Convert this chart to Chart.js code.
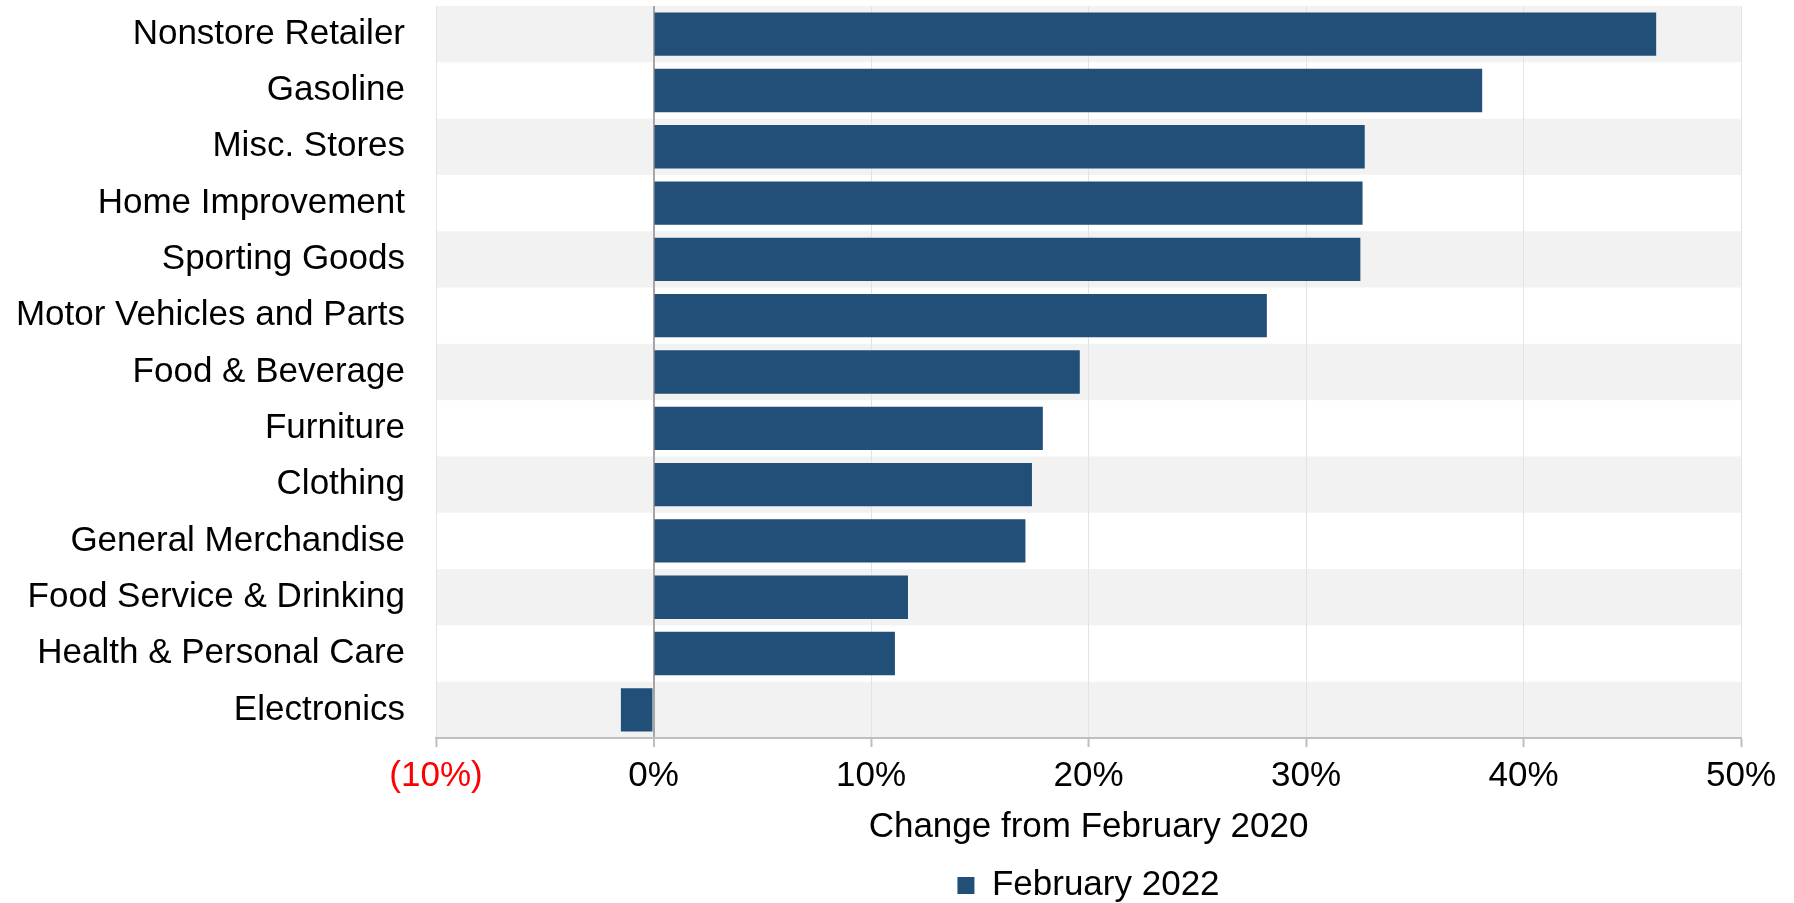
<!DOCTYPE html>
<html lang="en">
<head>
    <meta charset="UTF-8">
    <title>Retail Sales Change</title>
    <script src="https://cdn.jsdelivr.net/npm/chart.js@4"></script>
    <style>
        html, body {
            margin: 0;
            padding: 0;
            background: #ffffff;
        }
        #wrap {
            width: 1794px;
            height: 903px;
            position: relative;
        }
    </style>
</head>
<body>
    <div id="wrap">
        <canvas id="salesChart"></canvas>
    </div>

    <script>
        const categories = [
            'Nonstore Retailer',
            'Gasoline',
            'Misc. Stores',
            'Home Improvement',
            'Sporting Goods',
            'Motor Vehicles and Parts',
            'Food & Beverage',
            'Furniture',
            'Clothing',
            'General Merchandise',
            'Food Service & Drinking',
            'Health & Personal Care',
            'Electronics'
        ];
        const feb2022 = [46.1, 38.1, 32.7, 32.6, 32.5, 28.2, 19.6, 17.9, 17.4, 17.1, 11.7, 11.1, -1.5];
        const xMin = -10;
        const xMax = 50;
        const xStep = 10;

        const FONT = "'Liberation Sans', Arial, sans-serif";

        // grey stripes behind every other row
        const rowBands = {
            id: 'rowBands',
            beforeDraw(chart) {
                const { ctx, chartArea } = chart;
                const y = chart.scales.y;
                const half = Math.abs(y.getPixelForValue(1) - y.getPixelForValue(0)) / 2;
                ctx.save();
                ctx.fillStyle = '#f2f2f2';
                categories.forEach((c, i) => {
                    if (i % 2 === 0) {
                        const cy = y.getPixelForValue(i);
                        ctx.fillRect(chartArea.left, cy - half, chartArea.right - chartArea.left, half * 2);
                    }
                });
                ctx.restore();
            }
        };

        const ctx = document.getElementById('salesChart').getContext('2d');
        new Chart(ctx, {
            type: 'bar',
            data: {
                labels: categories,
                datasets: [{
                    label: 'February 2022',
                    data: feb2022,
                    backgroundColor: '#214f78',
                    borderColor: '#214f78',
                    borderWidth: 0,
                    barPercentage: 0.77,
                    categoryPercentage: 1
                }]
            },
            options: {
                indexAxis: 'y',
                responsive: true,
                maintainAspectRatio: false,
                animation: false,
                layout: {
                    padding: { top: 6, right: 53, left: 0, bottom: -10 }
                },
                scales: {
                    x: {
                        min: xMin,
                        max: xMax,
                        ticks: {
                            stepSize: xStep,
                            padding: 12,
                            font: { family: FONT, size: 35, lineHeight: 1.0 },
                            color: c => c.tick && c.tick.value < 0 ? '#ff0000' : '#000000',
                            callback: v => v < 0 ? '(' + Math.abs(v) + '%)' : v + '%'
                        },
                        grid: {
                            color: c => c.tick && c.tick.value === 0 ? '#a6a6a6' : '#e3e3e3',
                            lineWidth: c => c.tick && c.tick.value === 0 ? 2 : 1,
                            tickColor: '#bfbfbf',
                            tickLength: 9,
                            tickWidth: 2
                        },
                        border: { color: '#bfbfbf', width: 2 },
                        title: {
                            display: true,
                            text: 'Change from February 2020',
                            color: '#000000',
                            font: { family: FONT, size: 35 },
                            padding: { top: 0, bottom: 18 }
                        }
                    },
                    y: {
                        grid: { display: false, drawTicks: false },
                        border: { display: false },
                        ticks: {
                            padding: 31,
                            color: '#000000',
                            font: { family: FONT, size: 35 }
                        },
                        // fixed label column; tick padding should not shrink the plot vertically
                        afterFit(scale) {
                            scale.width = 436;
                            scale.paddingTop = 0;
                            scale.paddingBottom = 0;
                        }
                    }
                },
                plugins: {
                    legend: {
                        position: 'bottom',
                        fullSize: false,
                        labels: {
                            boxWidth: 17,
                            boxHeight: 17,
                            padding: 2,
                            color: '#000000',
                            font: { family: FONT, size: 35 }
                        }
                    },
                    tooltip: { enabled: false }
                }
            },
            plugins: [rowBands]
        });
    </script>
</body>
</html>
